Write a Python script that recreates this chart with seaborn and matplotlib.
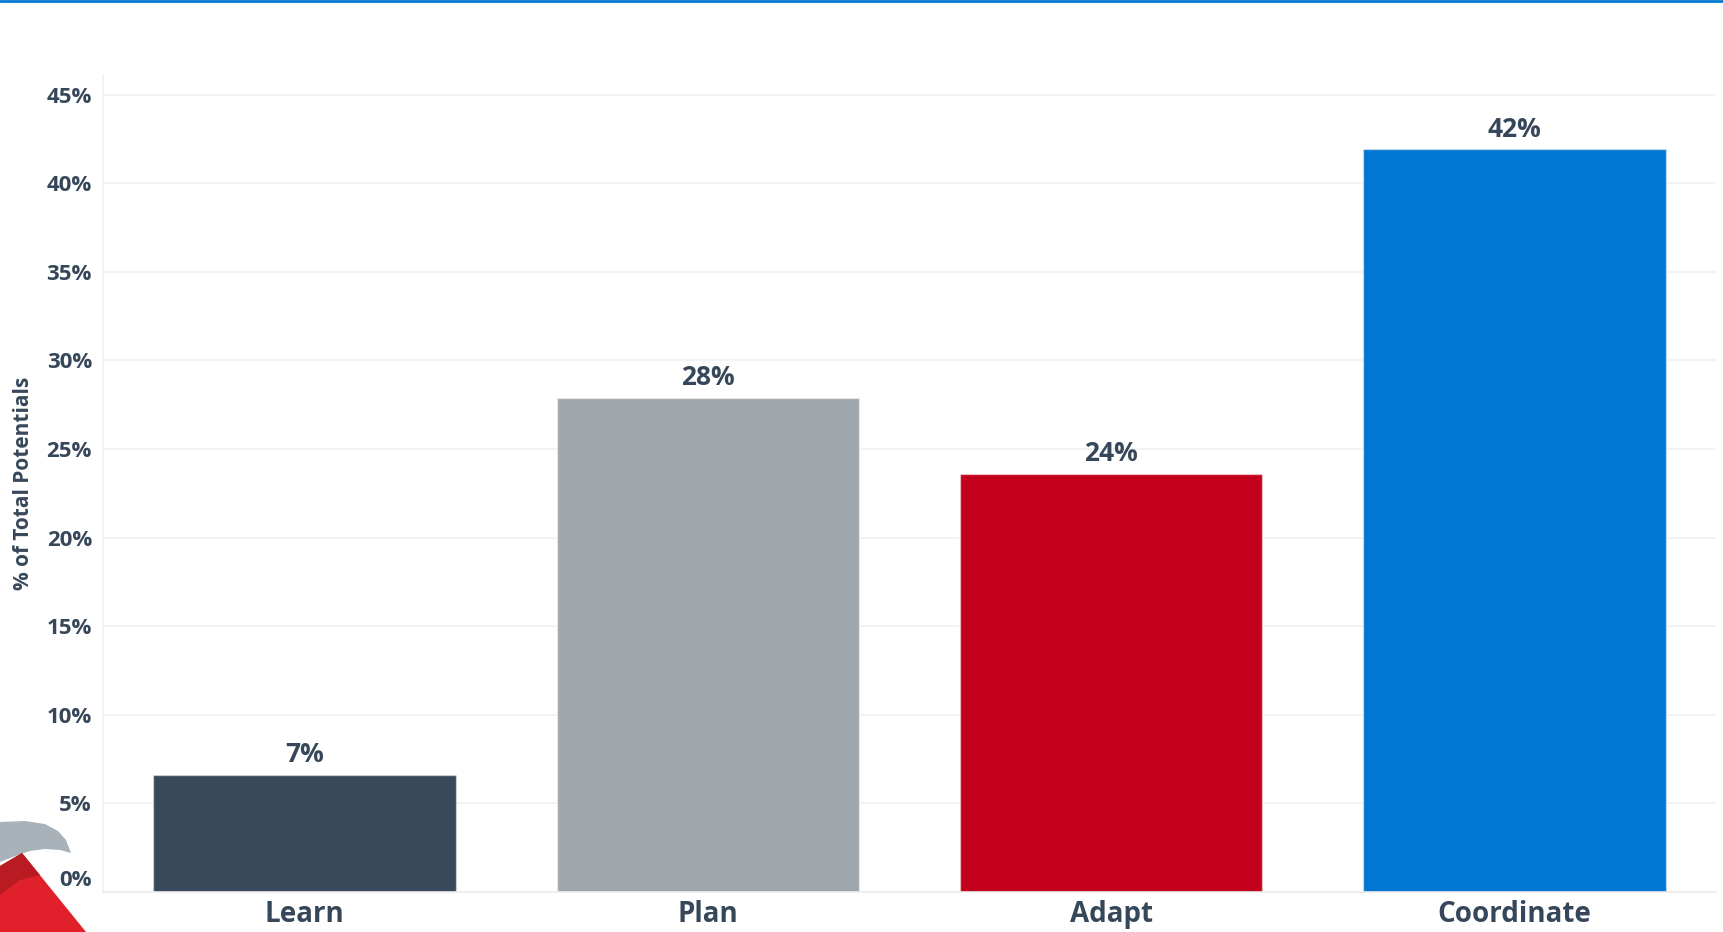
import matplotlib
matplotlib.use("Agg")
import matplotlib.pyplot as plt
import matplotlib.transforms as mtransforms
from matplotlib.patches import Polygon
from matplotlib.lines import Line2D
import seaborn as sns
import pandas as pd

# Share of total potentials by capability
categories = ["Learn", "Plan", "Adapt", "Coordinate"]
shares = [6.6, 27.9, 23.6, 41.9]
colors = ["#37495A", "#9FA6AC", "#C2001C", "#0077D1"]
y_ticks = [0, 5, 10, 15, 20, 25, 30, 35, 40, 45]

TEXT = "#37475A"
GRID = "#F1F1F1"

sns.set_theme(style="white")
plt.rcParams["font.family"] = ["Open Sans", "DejaVu Sans"]

df = pd.DataFrame({"category": categories, "share": shares})

fig = plt.figure(figsize=(17.23, 9.32), dpi=100)
ax = fig.add_axes([0.0598, 0.0429, 0.9361, 0.8766])

sns.barplot(data=df, x="category", y="share", hue="category",
            palette=colors, legend=False, width=0.75, ax=ax,
            edgecolor=(1, 1, 1, 0.45), linewidth=1.0, saturation=1)

ax.set_xlim(-0.5, len(categories) - 0.5)
ax.set_ylim(0, 46.1)
ax.set_yticks(y_ticks)
ax.set_yticklabels([f"{t}%" for t in y_ticks])
ax.yaxis.grid(True, color=GRID, linewidth=1.2)
ax.set_axisbelow(True)

# value labels over bars
for cont in ax.containers:
    ax.bar_label(cont, labels=[f"{v:.0f}%" for v in cont.datavalues],
                 padding=5, fontsize=19, fontweight="bold", color=TEXT)

ax.set_xlabel("")
ax.set_ylabel("% of Total Potentials", fontsize=15, fontweight="bold",
              color=TEXT, labelpad=9)

ax.tick_params(axis="y", length=0, pad=8, labelsize=16, labelcolor=TEXT)
ax.tick_params(axis="x", which="major", length=0, pad=6, labelsize=20,
               labelcolor=TEXT)
for lbl in ax.get_xticklabels() + ax.get_yticklabels():
    lbl.set_fontweight("bold")

# the baseline label sits a little above its gridline
zero_lbl = ax.get_yticklabels()[0]
zero_lbl.set_transform(zero_lbl.get_transform() +
                       mtransforms.ScaledTranslation(0, 10 / 72, fig.dpi_scale_trans))

# small separators between categories on the baseline
ax.set_xticks([i + 0.5 for i in range(len(categories) - 1)], minor=True)
ax.tick_params(axis="x", which="minor", length=5, width=1, color="#E4E4E4")

for side in ["top", "right"]:
    ax.spines[side].set_visible(False)
ax.spines["left"].set_color(GRID)
ax.spines["left"].set_linewidth(1.2)
ax.spines["bottom"].set_color("#ECECEC")
ax.spines["bottom"].set_linewidth(1.2)

# header rule
fig.add_artist(Line2D([0, 1], [0.9985, 0.9985], transform=fig.transFigure,
                      color="#0077D1", linewidth=2))

# corner emblem fragment
W, H = 1723, 932
def px(pts):
    return [(x / W, 1 - y / H) for x, y in pts]

fig.add_artist(Polygon(px([(0, 822), (25, 821), (45, 824), (58, 831), (66, 840),
                           (71, 853), (60, 850), (45, 849), (30, 851), (18, 855),
                           (0, 862)]),
                       closed=True, transform=fig.transFigure,
                       facecolor="#A9B2B8", edgecolor="none"))
fig.add_artist(Polygon(px([(0, 866), (22, 853), (86, 932), (0, 932)]),
                       closed=True, transform=fig.transFigure,
                       facecolor="#E0202A", edgecolor="none"))
fig.add_artist(Polygon(px([(0, 866), (22, 853), (40, 875), (20, 880), (0, 895)]),
                       closed=True, transform=fig.transFigure,
                       facecolor="#B81C22", edgecolor="none"))

fig.savefig("out.png", dpi=100)
